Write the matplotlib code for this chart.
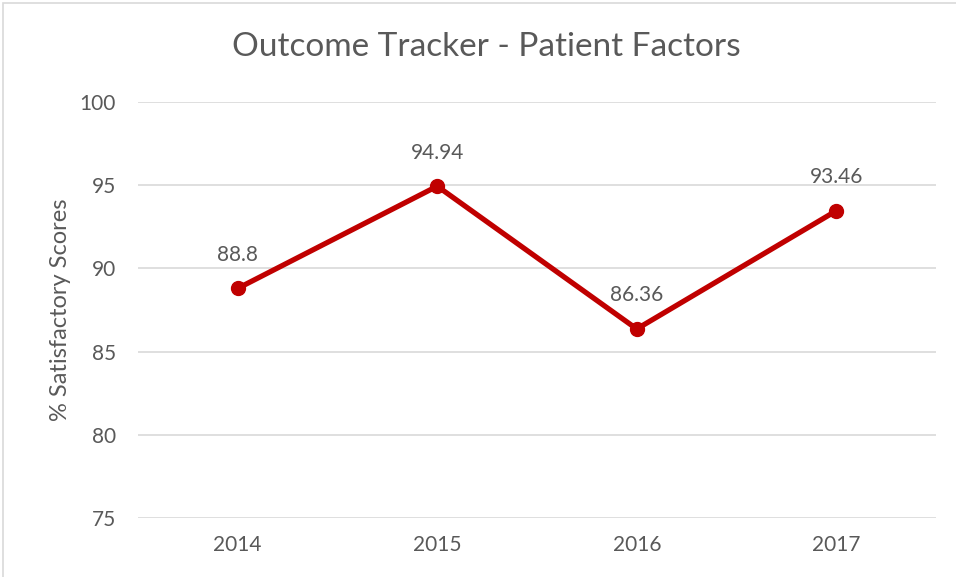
import matplotlib
matplotlib.use("Agg")
import matplotlib.pyplot as plt
from matplotlib.patches import Rectangle

years = ["2014", "2015", "2016", "2017"]
scores = [88.8, 94.94, 86.36, 93.46]
labels = ["88.8", "94.94", "86.36", "93.46"]
yticks = [75, 80, 85, 90, 95, 100]

plt.rcParams['font.family'] = ['Lato', 'DejaVu Sans']
txt = '#595959'

fig = plt.figure(figsize=(9.56, 5.77), dpi=100)
ax = fig.add_axes([138/956, 1-518/577, (936-138)/956, (518-102)/577])

x = list(range(len(years)))
ax.plot(x, scores, color='#C00000', lw=3.8, marker='o', markersize=10, solid_capstyle='round', zorder=3)
for xi, yi, lab in zip(x, scores, labels):
    ax.annotate(lab, (xi, yi), xytext=(0, 17), textcoords='offset points',
                ha='center', va='bottom', fontsize=15, color=txt)

ax.set_xlim(-0.5, 3.5)
ax.set_ylim(75, 100)
ax.set_yticks(yticks)
ax.set_xticks(x)
ax.set_xticklabels(years)
ax.grid(axis='y', color='#d9d9d9', lw=1.2)
ax.set_axisbelow(True)
for s in ax.spines.values():
    s.set_visible(False)
ax.tick_params(axis='both', length=0, labelsize=15, labelcolor=txt)
ax.tick_params(axis='x', pad=12)
ax.tick_params(axis='y', pad=16)
ax.set_ylabel('% Satisfactory Scores', fontsize=17, color=txt, labelpad=6)
fig.text(486/956, 1-47/577, 'Outcome Tracker - Patient Factors', ha='center', va='center',
         fontsize=24, color=txt)

fig.patches.append(Rectangle((3/956, -0.1), 1.2, 1.1 - 3/577, transform=fig.transFigure,
                             fill=False, edgecolor='#d9d9d9', lw=1.2))

fig.savefig('out.png', dpi=100)
